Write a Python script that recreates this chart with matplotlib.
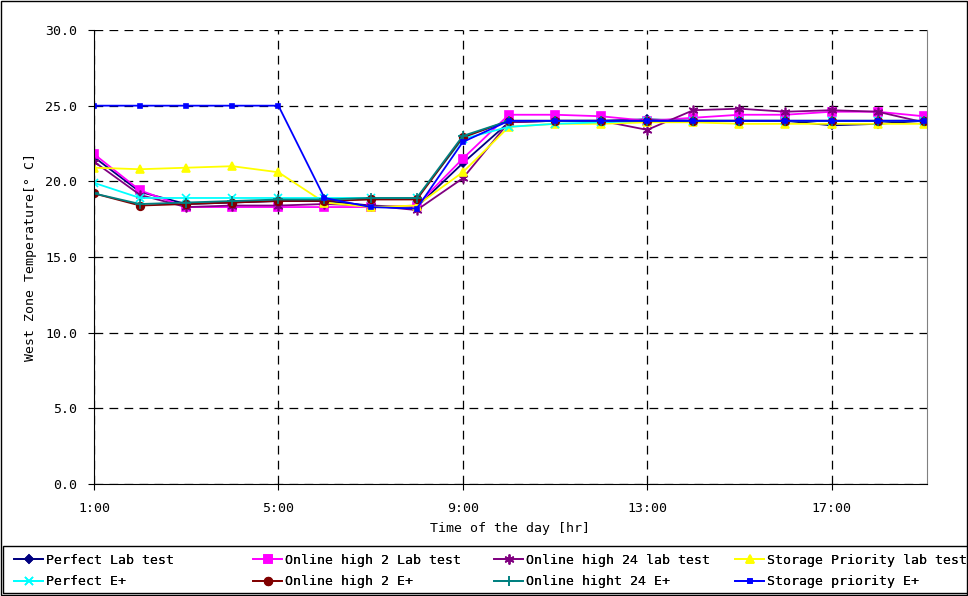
"""West zone temperature over the day: lab tests vs E+ simulations."""

import matplotlib

matplotlib.use("Agg")
import matplotlib.pyplot as plt  # noqa: E402
from matplotlib.patches import Rectangle  # noqa: E402

plt.rcParams["font.family"] = ["DejaVu Sans Mono"]

HOURS = list(range(1, 20))
X_TICKS = [1, 5, 9, 13, 17]
X_TICK_LABELS = ["1:00", "5:00", "9:00", "13:00", "17:00"]

perfect_lab = [21.6, 19.3, 18.5, 18.6, 18.7, 18.7, 18.4, 18.3, 21.2, 23.9,
               24.0, 24.0, 24.1, 24.0, 24.0, 24.0, 23.7, 23.8, 24.0]
online2_lab = [21.8, 19.4, 18.3, 18.3, 18.3, 18.3, 18.3, 18.4, 21.5, 24.4,
               24.4, 24.3, 24.0, 24.2, 24.4, 24.4, 24.6, 24.6, 24.3]
online24_lab = [21.3, 19.1, 18.3, 18.4, 18.4, 18.5, 18.4, 18.1, 20.2, 23.9,
                24.0, 24.0, 23.4, 24.7, 24.8, 24.6, 24.7, 24.6, 23.9]
storage_lab = [20.9, 20.8, 20.9, 21.0, 20.6, 18.6, 18.3, 18.4, 20.6, 23.6,
               23.8, 23.8, 23.9, 23.9, 23.8, 23.8, 23.8, 23.8, 23.8]
perfect_ep = [19.9, 18.9, 18.9, 18.9, 18.9, 18.9, 18.9, 18.9, 22.8, 23.6,
              23.8, 23.9, 24.0, 24.0, 24.0, 24.0, 24.0, 24.0, 24.0]
online2_ep = [19.2, 18.4, 18.5, 18.6, 18.7, 18.7, 18.8, 18.8, 22.9, 24.0,
              24.0, 24.0, 24.0, 24.0, 24.0, 24.0, 24.0, 24.0, 24.0]
online24_ep = [19.2, 18.5, 18.6, 18.7, 18.8, 18.8, 18.9, 18.9, 23.0, 24.0,
               24.0, 24.0, 24.0, 24.0, 24.0, 24.0, 24.0, 24.0, 24.0]
storage_ep = [25.0, 25.0, 25.0, 25.0, 25.0, 18.9, 18.3, 18.2, 22.6, 24.0,
              24.0, 24.0, 24.0, 24.0, 24.0, 24.0, 24.0, 24.0, 24.0]

SERIES = [
    ("Perfect Lab test", perfect_lab, "#000080", "D", 4.5),
    ("Online high 2 Lab test", online2_lab, "#FF00FF", "s", 5.5),
    ("Online high 24 lab test", online24_lab, "#800080", (6, 2, 0), 7),
    ("Storage Priority lab test", storage_lab, "#FFFF00", "^", 6),
    ("Perfect E+", perfect_ep, "#00FFFF", "x", 5.5),
    ("Online high 2 E+", online2_ep, "#800000", "o", 5.5),
    ("Online hight 24 E+", online24_ep, "#008080", "+", 7),
    ("Storage priority E+", storage_ep, "#0000FF", "s", 2.5),
]

W, H = 968, 596
fig = plt.figure(figsize=(W / 100, H / 100), dpi=100)
ax = fig.add_axes([94 / W, 1 - 484 / H, (927 - 94) / W, (484 - 30) / H])

handles = []
for label, vals, color, marker, ms in SERIES:
    (h,) = ax.plot(HOURS, vals, color=color, marker=marker, markersize=ms,
                   markeredgecolor=color, markerfacecolor=color,
                   markeredgewidth=1.2, linewidth=1.3, label=label)
    handles.append(h)

ax.set_xlim(1, 19.07)
ax.set_ylim(0, 30)
ax.set_xticks(X_TICKS)
ax.set_xticklabels(X_TICK_LABELS)
ax.set_yticks([0, 5, 10, 15, 20, 25, 30])
ax.set_yticklabels([f"{v:.1f}" for v in [0, 5, 10, 15, 20, 25, 30]])
ax.tick_params(labelsize=9.5, length=4, direction="out")
ax.tick_params(axis="x", pad=9)
ax.tick_params(axis="y", pad=8)
ax.grid(True, color="black", linestyle=(0, (7, 5)), linewidth=0.9)
ax.set_axisbelow(True)
ax.spines["top"].set_visible(False)
ax.spines["right"].set_color("#808080")
ax.set_xlabel("Time of the day [hr]", fontsize=9.5, labelpad=5)
ax.set_ylabel("West Zone Temperature[° C]", fontsize=9.5, labelpad=6)

# Excel-style legend: four columns placed at fixed x, two rows each
col_x = [14, 253, 494, 735]
for c, x0 in enumerate(col_x):
    pair = [c, c + 4]
    leg = fig.legend([handles[i] for i in pair], [SERIES[i][0] for i in pair],
                     loc="upper left", bbox_to_anchor=(x0 / W, 1 - 554 / H),
                     frameon=False, fontsize=9.5, borderaxespad=0,
                     borderpad=0, handlelength=2.2, handletextpad=0.25,
                     labelspacing=0.62)
    fig.add_artist(leg)

fig.patches.append(Rectangle((3 / W, 3 / H), 1.0, 47 / H, transform=fig.transFigure,
                             fill=False, edgecolor="black", linewidth=1.0))
fig.patches.append(Rectangle((0.001, 0.001), 0.998, 0.997, transform=fig.transFigure,
                             fill=False, edgecolor="black", linewidth=1.0))

fig.savefig("out.png", dpi=100)
